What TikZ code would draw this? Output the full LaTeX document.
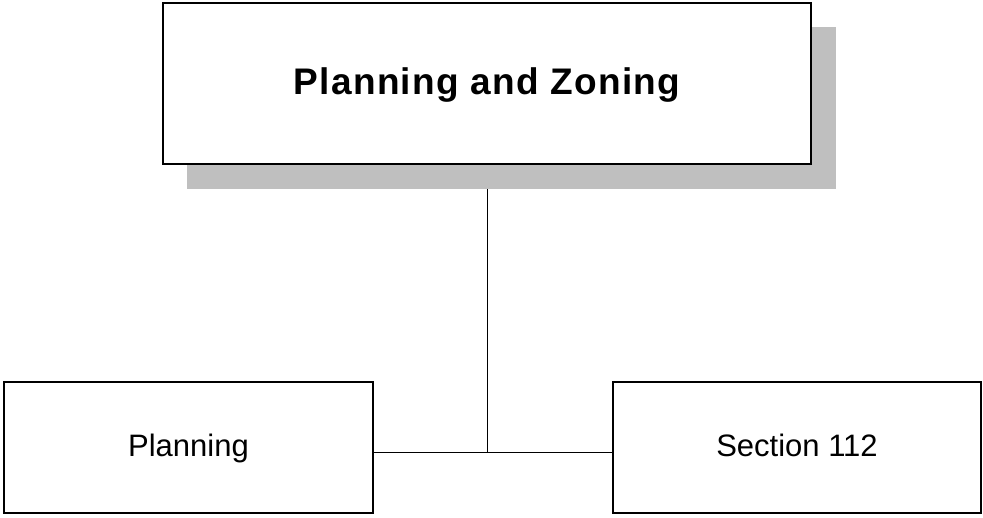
\documentclass[tikz,border=0pt]{standalone}
\usepackage{fontspec}
\setmainfont{Liberation Sans}
\newfontfamily\titlefont[LetterSpace=3.5]{Liberation Sans}
\begin{document}
\begin{tikzpicture}[x=1pt,y=-1pt,
  box/.style={draw=black,line width=2pt,fill=white,inner sep=0pt},
  shadowbox/.style={fill=black!25,draw=none,inner sep=0pt},
  conn/.style={draw=black,line width=1pt}]
\useasboundingbox (0,0) rectangle (983,517);
% shadow
\node[shadowbox,minimum width=649pt,minimum height=162pt] (sh) at (511.5,108) {};
% top box
\node[box,minimum width=648pt,minimum height=161pt,text height=27pt,text depth=6pt,font={\titlefont\bfseries\fontsize{37}{44}\selectfont}] (top) at (487,83.5) {Planning and Zoning};
% bottom boxes
\node[box,minimum width=369pt,minimum height=131pt,text height=23pt,text depth=4.5pt,font={\fontsize{31}{37}\selectfont}] (left) at (188.5,447.5) {Planning};
\node[box,minimum width=368pt,minimum height=131pt,text height=23pt,text depth=4.5pt,font={\fontsize{31}{37}\selectfont}] (right) at (797,447.5) {Section 112};
\coordinate (j) at (487,452);
\draw[conn] (sh.south -| top.south) -- (j);
\draw[conn] (left.east |- j) -- (right.west |- j);
\end{tikzpicture}
\end{document}
